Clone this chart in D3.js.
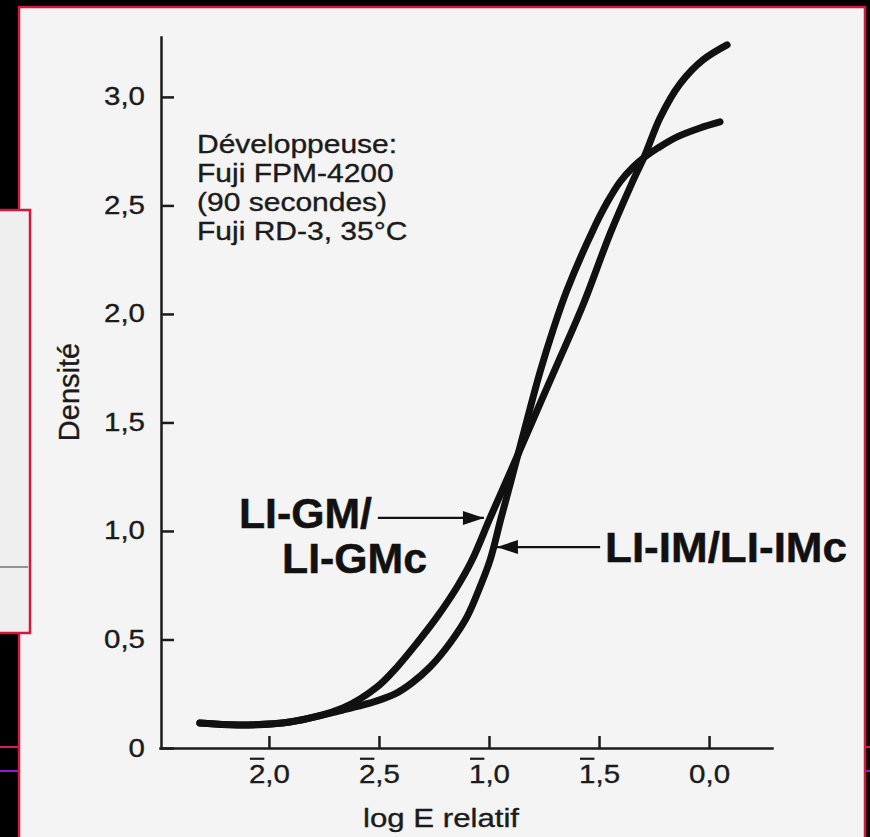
<!DOCTYPE html>
<html lang="fr">
<head>
<meta charset="UTF-8">
<title>Densité / log E relatif</title>
<script src="https://cdn.jsdelivr.net/npm/d3@7/dist/d3.min.js"></script>
<style>
    body { margin: 0; background: #000; }
    svg { display: block; }
    text { font-family: "Liberation Sans", Arial, Helvetica, sans-serif; fill: #1b1b1b; stroke: #1b1b1b; stroke-width: 0.35px; }
    .axis path, .axis line { stroke: #1b1b1b; stroke-width: 2.5px; }
    .axis text { font-size: 25px; }
    path.curve { fill: none; stroke: #111; stroke-width: 7px; stroke-linecap: round; stroke-linejoin: round; }
    .bold { font-weight: bold; font-size: 42px; fill: #111; stroke: #111; stroke-width: 0.5px; }
</style>
</head>
<body>
<svg width="870" height="837"></svg>
<script>
// LI-GM / LI-GMc curve (log E relatif, densité)
const gmLogE = [-2.314, -2.132, -1.905, -1.664, -1.509, -1.418, -1.327, -1.236, -1.145, -1.077, -0.995, -0.905, -0.800, -0.695, -0.573, -0.450, -0.350, -0.291, -0.223, -0.132, -0.027, 0.082]
const gmDens = [0.115, 0.106, 0.120, 0.184, 0.281, 0.373, 0.484, 0.604, 0.742, 0.866, 1.060, 1.267, 1.512, 1.756, 2.041, 2.369, 2.604, 2.733, 2.903, 3.060, 3.171, 3.240]

// LI-IM / LI-IMc curve
const imLogE = [-2.314, -2.132, -1.905, -1.664, -1.509, -1.427, -1.350, -1.268, -1.177, -1.100, -1.041, -0.995, -0.945, -0.895, -0.827, -0.768, -0.709, -0.645, -0.527, -0.464, -0.405, -0.345, -0.291, -0.232, -0.145, -0.041, 0.050]
const imDens = [0.115, 0.106, 0.120, 0.175, 0.217, 0.249, 0.300, 0.373, 0.484, 0.604, 0.742, 0.866, 1.060, 1.249, 1.512, 1.733, 1.926, 2.111, 2.387, 2.512, 2.608, 2.677, 2.724, 2.765, 2.816, 2.857, 2.885]

const yTicks = [0, 0.5, 1, 1.5, 2, 2.5, 3]
const yTickLabels = ["0", "0,5", "1,0", "1,5", "2,0", "2,5", "3,0"]
const xTicks = [-2, -1.5, -1, -0.5, 0]
const xTickBar = ["2", "2", "1", "1", ""]      // negative characteristic, written with a bar
const xTickRest = [",0", ",5", ",0", ",5", "0,0"]
const devLines = ["Développeuse:", "Fuji FPM-4200", "(90 secondes)", "Fuji RD-3, 35°C"]

// arrows: [from logE, to logE, density]
const gmArrow = [-1.505, -1.023, 1.06]
const imArrow = [-0.495, -0.964, 0.926]

let svg = d3.select('svg')

// stretch a text horizontally, the scan is a bit wide
function stretch(sel, k) {
    sel.each(function () {
        let w = this.getComputedTextLength()
        d3.select(this).attr('textLength', w * k).attr('lengthAdjust', 'spacingAndGlyphs')
    })
}

//----- frame of the scan
svg.append('line').attr('x1', 0).attr('x2', 870).attr('y1', 747).attr('y2', 747)
    .style('stroke', '#d81b60').style('stroke-width', 2)
svg.append('line').attr('x1', 0).attr('x2', 870).attr('y1', 771).attr('y2', 771)
    .style('stroke', '#8e1bd8').style('stroke-width', 2)

svg.append('rect').attr('x', 19).attr('y', 7).attr('width', 846).attr('height', 850)
    .style('fill', '#f4f4f4').style('stroke', '#d3173d').style('stroke-width', 2.5)

svg.append('rect').attr('x', -5).attr('y', 210).attr('width', 35).attr('height', 423)
    .style('fill', '#efefef').style('stroke', '#d3173d').style('stroke-width', 2.5)
svg.append('line').attr('x1', 0).attr('x2', 28).attr('y1', 567).attr('y2', 567)
    .style('stroke', '#555').style('stroke-width', 1.2)

//----- scales
let xScale = d3.scaleLinear().domain([-2.495, 0.286]).range([160, 772])
let yScale = d3.scaleLinear().domain([0, 3.276]).range([748, 37])

//----- axes
let yAxis = svg.append('g').attr('class', 'axis').attr('transform', 'translate(161,0)')
    .call(d3.axisLeft(yScale).tickValues(yTicks)
        .tickFormat(function (d, i) { return yTickLabels[i] })
        .tickSizeInner(-13).tickSizeOuter(0).tickPadding(16))
yAxis.selectAll('text').attr('dy', '0.32em')

let xAxis = svg.append('g').attr('class', 'axis').attr('transform', 'translate(0,748)')
    .call(d3.axisBottom(xScale).tickValues(xTicks).tickFormat('')
        .tickSizeInner(-12).tickSizeOuter(0).tickPadding(17))
svg.selectAll('.axis .domain').style('stroke-linecap', 'square')

xAxis.selectAll('.tick text').each(function (d, i) {
    let t = d3.select(this)
    if (xTickBar[i]) t.append('tspan').text(xTickBar[i])
    t.append('tspan').text(xTickRest[i])
})
stretch(svg.selectAll('.axis text'), 1.18)

// bar over the characteristic
xAxis.selectAll('.tick').each(function (d, i) {
    if (!xTickBar[i]) return
    let txt = d3.select(this).select('text').node()
    let ext = txt.getExtentOfChar(0)
    d3.select(this).append('line')
        .attr('x1', ext.x + 1).attr('x2', ext.x + ext.width - 1)
        .attr('y1', ext.y - 1).attr('y2', ext.y - 1)
        .style('stroke', '#1b1b1b').style('stroke-width', 2.2)
})

//----- axis titles
svg.append('text').attr('transform', 'translate(79,392) rotate(-90)')
    .attr('text-anchor', 'middle').style('font-size', '29px').text('Densité')

let xTitle = svg.append('text').attr('x', 441).attr('y', 827)
    .attr('text-anchor', 'middle').style('font-size', '26px').text('log E relatif')
stretch(xTitle, 1.2)

//----- developer note
let note = svg.append('g').selectAll('text').data(devLines).enter().append('text')
    .attr('x', 197).attr('y', function (d, i) { return 153 + i * 29 })
    .style('font-size', '25px').text(function (d) { return d })
stretch(note, 1.2)

//----- curves
let line = d3.line()
    .x(function (d) { return xScale(d[0]) })
    .y(function (d) { return yScale(d[1]) })
    .curve(d3.curveCatmullRom.alpha(0.5))

let fig = svg.append('g')
fig.append('path').attr('class', 'curve gm').attr('d', line(d3.zip(gmLogE, gmDens)))
fig.append('path').attr('class', 'curve im').attr('d', line(d3.zip(imLogE, imDens)))

//----- labels and arrows
svg.append('defs').append('marker').attr('id', 'head')
    .attr('markerUnits', 'userSpaceOnUse').attr('markerWidth', 24).attr('markerHeight', 16)
    .attr('viewBox', '0 -8 22 16').attr('refX', 21).attr('refY', 0).attr('orient', 'auto')
    .append('path').attr('d', 'M0,-7L21,0L0,7Z').style('fill', '#111')

function arrow(a) {
    svg.append('line')
        .attr('x1', xScale(a[0])).attr('x2', xScale(a[1]))
        .attr('y1', yScale(a[2])).attr('y2', yScale(a[2]))
        .style('stroke', '#111').style('stroke-width', 2.2)
        .attr('marker-end', 'url(#head)')
}
arrow(gmArrow)
arrow(imArrow)

let l1 = svg.append('text').attr('class', 'bold').attr('x', 239).attr('y', 528).text('LI-GM/')
let l2 = svg.append('text').attr('class', 'bold').attr('x', 282).attr('y', 573).text('LI-GMc')
let l3 = svg.append('text').attr('class', 'bold').attr('x', 605).attr('y', 562).text('LI-IM/LI-IMc')
l1.attr('textLength', 133).attr('lengthAdjust', 'spacingAndGlyphs')
l2.attr('textLength', 145).attr('lengthAdjust', 'spacingAndGlyphs')
l3.attr('textLength', 242).attr('lengthAdjust', 'spacingAndGlyphs')
</script>
</body>
</html>
